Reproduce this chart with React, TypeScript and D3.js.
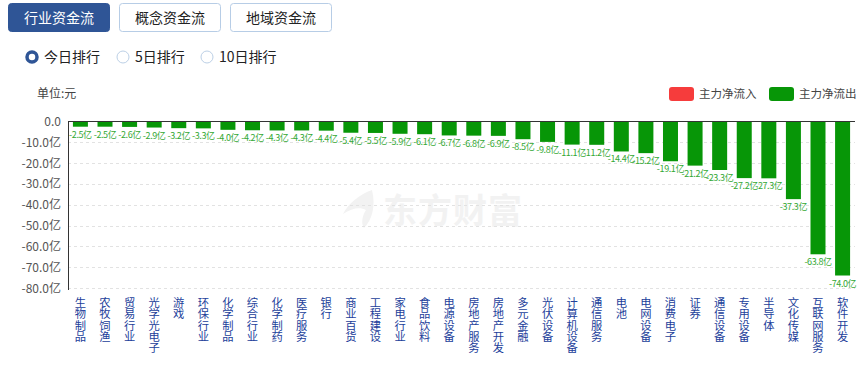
import React, { useEffect, useRef } from "react";
import * as d3 from "d3";

// industries, ranked by today's main net outflow (unit: 亿元)
const categories = [
  "生物制品", "农牧饲渔", "贸易行业", "光学光电子", "游戏", "环保行业", "化学制品", "综合行业",
  "化学制药", "医疗服务", "银行", "商业百货", "工程建设", "家电行业", "食品饮料", "电源设备",
  "房地产服务", "房地产开发", "多元金融", "光伏设备", "计算机设备", "通信服务", "电池", "电网设备",
  "消费电子", "证券", "通信设备", "专用设备", "半导体", "文化传媒", "互联网服务", "软件开发",
];
const netFlow = [
  -2.5, -2.5, -2.6, -2.9, -3.2, -3.3, -4.0, -4.2,
  -4.3, -4.3, -4.4, -5.4, -5.5, -5.9, -6.1, -6.7,
  -6.8, -6.9, -8.5, -9.8, -11.1, -11.2, -14.4, -15.2,
  -19.1, -21.2, -23.3, -27.2, -27.3, -37.3, -63.8, -74.0,
];
const yTicks = [0, -10, -20, -30, -40, -50, -60, -70, -80];
const tabs = ["行业资金流", "概念资金流", "地域资金流"];
const ranks = ["今日排行", "5日排行", "10日排行"];
const legendItems = [
  { label: "主力净流入", color: "#f63c3c" },
  { label: "主力净流出", color: "#079607" },
];

const W = 861;
const H = 366;
const FONT = "'Noto Sans CJK SC', 'Microsoft YaHei', sans-serif";

const App = () => {
  const ref = useRef<SVGSVGElement>(null);

  useEffect(() => {
    const svg = d3.select(ref.current);
    svg.selectAll("*").remove();

    // --- tab buttons
    const tabX = [8, 119, 230];
    tabs.forEach((t, i) => {
      const g = svg.append("g").attr("transform", `translate(${tabX[i]},3)`);
      g.append("rect")
        .attr("x", 0.5).attr("y", 0.5)
        .attr("width", 101).attr("height", 28)
        .attr("rx", 3)
        .attr("fill", i === 0 ? "#2f5596" : "#fff")
        .attr("stroke", i === 0 ? "#2f5596" : "#b7cde6");
      g.append("text")
        .attr("x", 51).attr("y", 19.5)
        .attr("text-anchor", "middle")
        .attr("font-size", 14)
        .attr("fill", i === 0 ? "#fff" : "#222")
        .text(t);
    });

    // --- radio row
    const radioX = [32, 123, 207];
    ranks.forEach((r, i) => {
      if (i === 0) {
        svg.append("circle").attr("cx", radioX[i]).attr("cy", 57).attr("r", 5)
          .attr("fill", "#fff").attr("stroke", "#2f5596").attr("stroke-width", 3.5);
      } else {
        svg.append("circle").attr("cx", radioX[i]).attr("cy", 57).attr("r", 6)
          .attr("fill", "#fff").attr("stroke", "#bcd0e6").attr("stroke-width", 1);
      }
      svg.append("text")
        .attr("x", radioX[i] + 12).attr("y", 62)
        .attr("font-size", 14).attr("fill", "#222")
        .text(r);
    });

    // --- unit
    svg.append("text").attr("x", 37).attr("y", 98)
      .attr("font-size", 12).attr("fill", "#444").text("单位:元");

    // --- legend
    const legX = [669, 769];
    legendItems.forEach((l, i) => {
      svg.append("rect").attr("x", legX[i]).attr("y", 87).attr("width", 25).attr("height", 14)
        .attr("rx", 3).attr("fill", l.color);
      svg.append("text").attr("x", legX[i] + 30).attr("y", 98)
        .attr("font-size", 11.5).attr("fill", "#444").text(l.label);
    });

    // --- chart area
    const left = 68, right = 855, top = 121.5, bottom = 288;
    const x = d3.scaleBand<string>().domain(categories).range([left, right]).paddingInner(0.39).paddingOuter(0.2);
    const y = d3.scaleLinear().domain([0, -80]).range([top, bottom]);

    // watermark
    const wm = svg.append("g");
    wm.append("path")
      .attr("d", "M372,190 C360,194 348,204 343,214 C352,208 360,207 366,210 C362,216 361,224 364,228 C372,220 376,206 372,190 Z")
      .attr("fill", "#f2f2f2");
    wm.append("text").attr("x", 383).attr("y", 223)
      .attr("font-size", 34).attr("font-weight", 700).attr("fill", "#f2f2f2")
      .attr("letter-spacing", 1)
      .text("东方财富");

    // grid
    svg.append("g")
      .selectAll("line")
      .data(yTicks.filter((d) => d !== 0))
      .enter()
      .append("line")
      .attr("x1", left).attr("x2", right)
      .attr("y1", (d) => Math.round(y(d)) + 0.5).attr("y2", (d) => Math.round(y(d)) + 0.5)
      .attr("stroke", "#e2e2e2").attr("stroke-dasharray", "3,3");

    // y labels
    svg.append("g")
      .selectAll("text")
      .data(yTicks)
      .enter()
      .append("text")
      .attr("x", 61).attr("y", (d) => y(d) + 4.5)
      .attr("text-anchor", "end")
      .attr("font-size", 12).attr("fill", "#555")
      .text((d) => (d === 0 ? "0.0" : `${d.toFixed(1)}亿`));

    // bars
    svg.append("g")
      .selectAll("rect")
      .data(netFlow)
      .enter()
      .append("rect")
      .attr("x", (_, i) => x(categories[i]) as number)
      .attr("y", y(0))
      .attr("width", x.bandwidth())
      .attr("height", (d) => y(d) - y(0))
      .attr("fill", "#079607");

    // value labels
    svg.append("g")
      .selectAll("text")
      .data(netFlow)
      .enter()
      .append("text")
      .attr("x", (_, i) => (x(categories[i]) as number) + x.bandwidth() / 2)
      .attr("y", (d) => y(d) + 11)
      .attr("text-anchor", "middle")
      .attr("font-size", 9)
      .attr("letter-spacing", -0.4)
      .attr("fill", "#33a833")
      .text((d) => `${d.toFixed(1)}亿`);

    // axes lines
    svg.append("line").attr("x1", left).attr("x2", right)
      .attr("y1", top).attr("y2", top).attr("stroke", "#333");
    svg.append("line").attr("x1", left + 0.5).attr("x2", left + 0.5)
      .attr("y1", top).attr("y2", 290).attr("stroke", "#333");

    // x labels, written top to bottom
    svg.append("g")
      .selectAll("text")
      .data(categories)
      .enter()
      .append("text")
      .attr("x", (d) => (x(d) as number) + x.bandwidth() / 2)
      .attr("y", 297)
      .attr("font-size", 11.3)
      .attr("fill", "#22409a")
      .style("writing-mode", "vertical-rl")
      .style("text-orientation", "upright")
      .text((d) => d);
  }, []);

  return (
    <svg
      ref={ref}
      width={W}
      height={H}
      style={{ position: "absolute", left: 0, top: 0, fontFamily: FONT, background: "#fff" }}
    />
  );
};

export default App;
